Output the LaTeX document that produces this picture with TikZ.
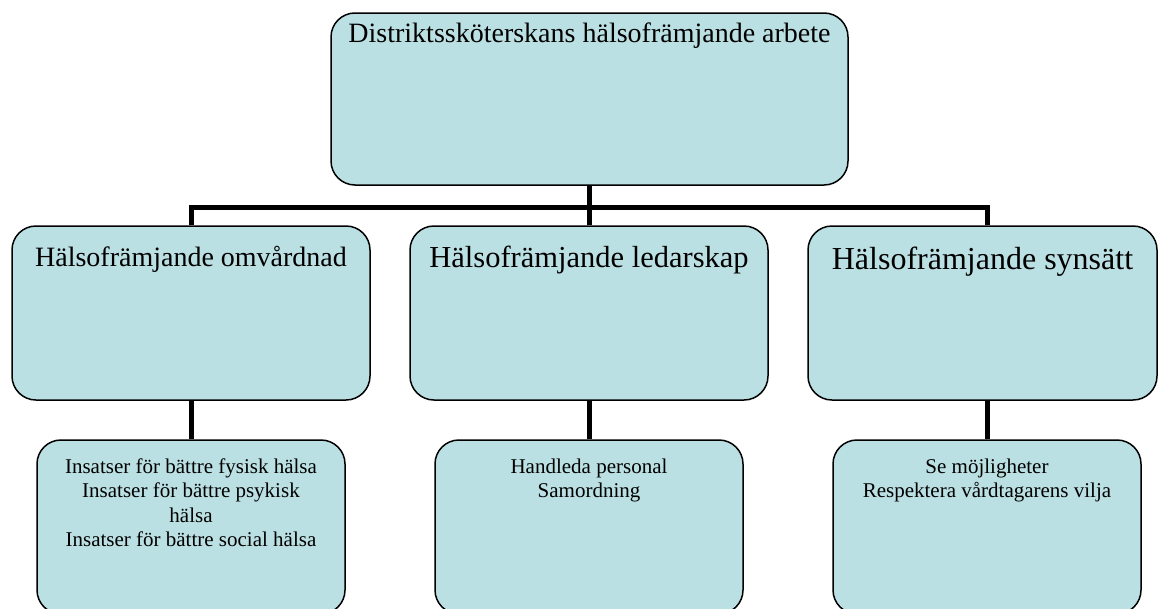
\documentclass[tikz,border=0pt]{standalone}
\usepackage{fontspec}
\setmainfont{Liberation Serif}
\usepackage{xcolor}
\usetikzlibrary{positioning}
\definecolor{boxblue}{HTML}{BBE0E3}

\begin{document}
\begin{tikzpicture}[x=1pt,y=-1pt,
    box/.style={draw=black, line width=1.5pt, fill=boxblue, rounded corners=24pt, minimum height=174pt, inner sep=0pt},
    head/.style={inner sep=0pt, align=center},
    conn/.style={line width=5pt}]
  \useasboundingbox (0,0) rectangle (1158,608);
  % boxes
  \node[box, minimum width=517pt, minimum height=172pt] (top) at (589.5,99) {};
  \node[box, minimum width=358pt] (omv) at (191,313) {};
  \node[box, minimum width=358pt] (led) at (589,313) {};
  \node[box, minimum width=349pt] (syn) at (982.5,313) {};
  \node[box, minimum width=308pt] (sub1) at (191,527) {};
  \node[box, minimum width=308pt] (sub2) at (589,527) {};
  \node[box, minimum width=308pt] (sub3) at (987,527) {};
  % texts
  \node[head, below=10pt of top.north, font=\fontsize{28}{32}\selectfont] (toptxt) {Distriktssköterskans hälsofrämjande arbete};
  \node[head, below=21pt of omv.north, font=\fontsize{28}{32}\selectfont] (omvtxt) {Hälsofrämjande omvårdnad};
  \node[head, below=21pt of led.north, font=\fontsize{30.5}{35}\selectfont] (ledtxt) {Hälsofrämjande ledarskap};
  \node[head, below=22pt of syn.north, font=\fontsize{32}{37}\selectfont] (syntxt) {Hälsofrämjande synsätt};
  \node[head, below=19pt of sub1.north, font=\fontsize{21}{24.5}\selectfont] (sub1txt) {Insatser för bättre fysisk hälsa\\Insatser för bättre psykisk\\hälsa\\Insatser för bättre social hälsa};
  \node[head, below=19pt of sub2.north, font=\fontsize{21}{24.5}\selectfont] (sub2txt) {Handleda personal\\Samordning};
  \node[head, below=19pt of sub3.north, font=\fontsize{21}{24.5}\selectfont] (sub3txt) {Se möjligheter\\Respektera vårdtagarens vilja};
  % connectors
  \coordinate (bus) at (0,207);
  \draw[conn] (top.south -| led.north) -- (led.north);
  \draw[conn] (omv.north) |- (bus -| sub3.north) -- (sub3.north |- syn.north);
  \draw[conn] (omv.south) -- (sub1.north);
  \draw[conn] (led.south) -- (sub2.north);
  \draw[conn] (sub3.north |- syn.south) -- (sub3.north);
\end{tikzpicture}
\end{document}
